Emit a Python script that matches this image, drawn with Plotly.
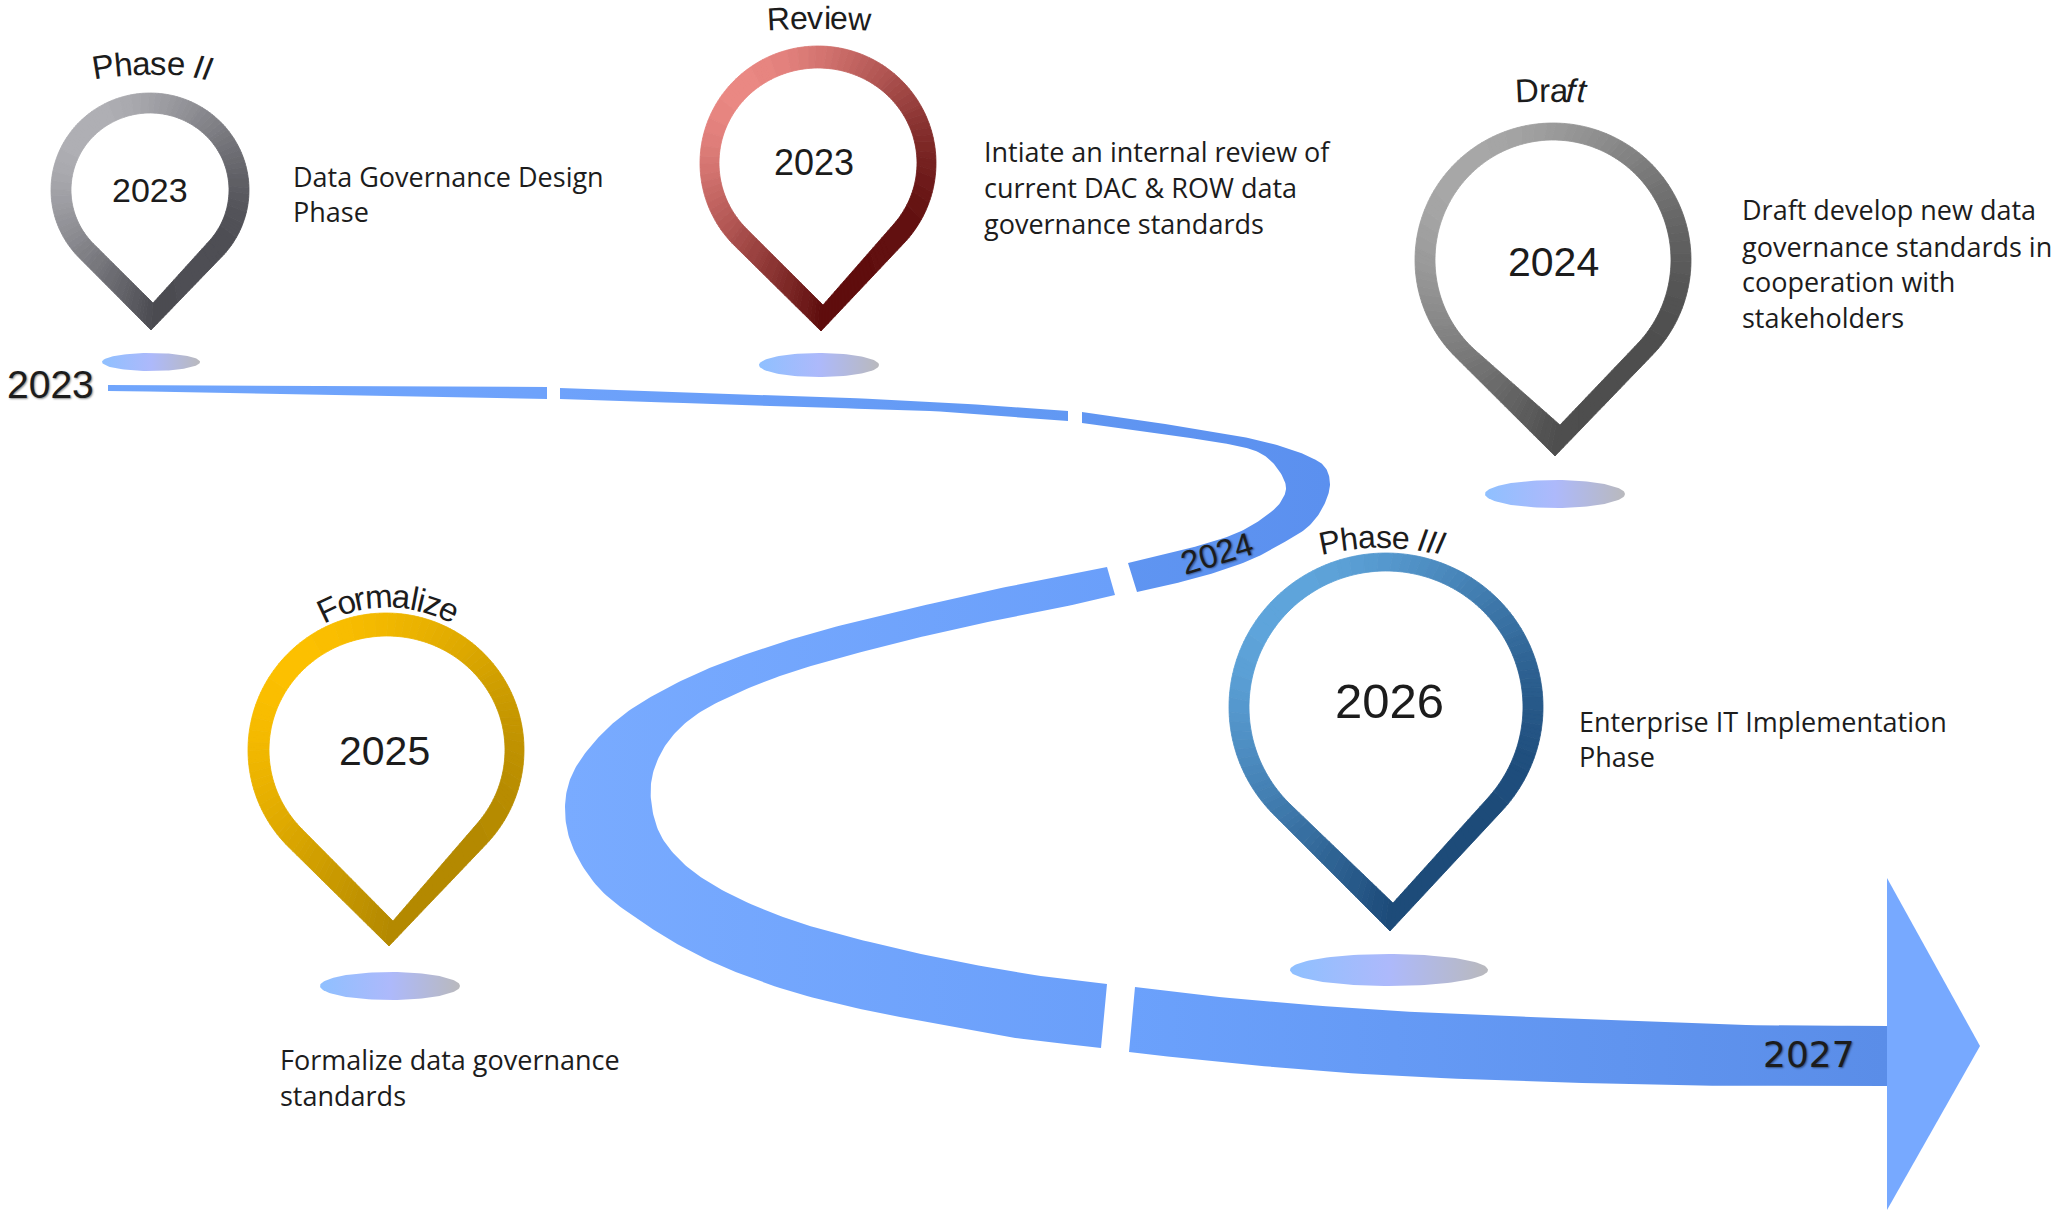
import math
import plotly.graph_objects as go

# Milestones along the roadmap
stage_names = ["Phase II", "Review", "Draft", "Phase III", "Formalize"]
stage_years = ["2023", "2023", "2024", "2026", "2025"]
stage_notes = [
    ["Data Governance Design", "Phase"],
    ["Intiate an internal review of", "current DAC & ROW data", "governance standards"],
    ["Draft develop new data", "governance standards in", "cooperation with", "stakeholders"],
    ["Enterprise IT Implementation", "Phase"],
    ["Formalize data governance", "standards"],
]
road_labels = ["2023", "2024", "2027"]

W, H = 2057, 1210
INK = "#1c1c1c"
BODY_FONT = "Open Sans"
YEAR_FONT = "Liberation Sans"

# Pin outlines: centre x, centre y, radius x, radius y, tip x, tip y
pin_outer = [
    (150, 190, 99, 97, 151, 330),
    (818, 163, 118, 117, 821, 331),
    (1553, 260, 138, 137, 1555, 456),
    (1386, 707, 157, 154, 1390, 931),
    (386, 750, 138, 137, 389, 946),
]
pin_inner = [
    (150, 190, 79, 77, 153, 303),
    (818, 163, 99, 95, 823, 305),
    (1553, 260, 118, 120, 1560, 425),
    (1386, 707, 137, 136, 1393, 903),
    (387, 750, 118, 114, 393, 921),
]
pin_colors = [
    ("#b6b6bb", "#47474d"),
    ("#f08d88", "#590808"),
    ("#ababab", "#4a4a4a"),
    ("#61a8df", "#1a4775"),
    ("#ffc200", "#b18700"),
]
# Floor shadows: centre x, centre y, radius x, radius y
shadows = [
    (151, 362, 49, 9),
    (819, 365, 60, 12),
    (1555, 494, 70, 14),
    (1389, 970, 99, 16),
    (390, 986, 70, 14),
]
# Year inside each pin: x, y, font size
year_marks = [
    (150, 190, 34),
    (814, 162, 36),
    (1553, 262, 41),
    (1389, 701, 49),
    (384, 751, 41),
]
# Note blocks: left x and the y of each line
note_left = [292, 983, 1741, 1578, 279]
note_rows = [
    [176, 211],
    [151, 187, 223],
    [209, 246, 281, 317],
    [721, 756],
    [1059, 1095],
]
# Curved stage titles: arc centre x, centre y, radius, font size; italic tail length
title_arcs = [
    (152, 373, 310, 33, 2),
    (819, 818, 800, 32, 0),
    (1551, 590, 500, 33, 2),
    (1382, 807, 270, 32, 3),
    (388, 738, 142, 33, 0),
]

# Road pieces as upper and lower edges, separated by the white cuts
road_pieces = [
    dict(upper=[(108, 385), (300, 386), (547, 387)],
         lower=[(108, 391), (300, 394), (547, 399)],
         colors=("#70a5fc", "#6ea2fb")),
    dict(upper=[(560, 388), (800, 396), (950, 403), (1068, 411)],
         lower=[(560, 399), (800, 407), (950, 412), (1068, 421)],
         colors=("#6ea2fb", "#6198f3")),
    dict(upper=[(1082, 412), (1133, 419), (1183, 427), (1233, 435), (1277, 445), (1310, 457), (1325, 467),
                (1330, 483), (1325, 503), (1310, 525), (1283, 543), (1250, 560), (1200, 577), (1137, 592)],
         lower=[(1082, 423), (1133, 430), (1183, 437), (1233, 445), (1258, 452), (1274, 464), (1286, 487),
                (1280, 503), (1263, 518), (1237, 533), (1183, 550), (1128, 563)],
         colors=("#6096f2", "#5b90ef")),
    dict(upper=[(1107, 567), (1050, 578), (983, 592), (917, 607), (850, 623), (783, 642), (717, 665),
                (667, 688), (623, 715), (590, 747), (571, 777), (565, 807), (571, 843), (598, 887),
                (645, 924), (704, 958), (780, 988), (856, 1008), (933, 1023), (1009, 1037), (1101, 1048)],
         lower=[(1115, 595), (1050, 610), (983, 623), (917, 638), (850, 655), (783, 675), (733, 695),
                (693, 717), (667, 743), (653, 773), (651, 800), (660, 834), (683, 863), (722, 890),
                (783, 917), (850, 937), (950, 960), (1047, 977), (1107, 984)],
         colors=("#79abff", "#6a9ffa")),
    dict(upper=[(1135, 987), (1200, 995), (1364, 1009), (1582, 1019), (1746, 1025), (1887, 1026)],
         lower=[(1129, 1052), (1200, 1060), (1364, 1074), (1582, 1083), (1746, 1086), (1887, 1086)],
         colors=("#6ba1fc", "#5a8de8")),
]
arrow_head = [(1887, 878), (1980, 1046), (1887, 1210)]
# Year labels on the road: x, y, rotation, size, family
road_marks = [
    (50, 384, 0, 39, YEAR_FONT),
    (1216, 553, -17, 33, YEAR_FONT),
    (1809, 1054, 0, 36, "DejaVu Sans"),
]

# Horizontal advance of each glyph, in thousandths of an em
ADVANCE = {"P": 667, "h": 556, "a": 556, "s": 500, "e": 556, " ": 278, "I": 278, "R": 722, "v": 500,
           "i": 222, "w": 722, "D": 722, "r": 333, "f": 278, "t": 278, "F": 611, "o": 556, "m": 833,
           "l": 222, "z": 500}


def hex_rgb(code):
    return tuple(int(code[i:i + 2], 16) for i in (1, 3, 5))


def blend(c0, c1, t):
    a, b = hex_rgb(c0), hex_rgb(c1)
    return "rgb(%d,%d,%d)" % tuple(round(a[i] + (b[i] - a[i]) * t) for i in range(3))


def lerp(p, q, t0, t1, t):
    w = (t - t0) / (t1 - t0)
    return (p[0] + (q[0] - p[0]) * w, p[1] + (q[1] - p[1]) * w)


def smooth(points, steps=14):
    """Centripetal Catmull-Rom curve through the given edge points."""
    first = (2 * points[0][0] - points[1][0], 2 * points[0][1] - points[1][1])
    last = (2 * points[-1][0] - points[-2][0], 2 * points[-1][1] - points[-2][1])
    ctrl = [first] + list(points) + [last]
    out = []
    for i in range(len(ctrl) - 3):
        p0, p1, p2, p3 = ctrl[i:i + 4]
        t0 = 0.0
        t1 = t0 + math.dist(p0, p1) ** 0.5
        t2 = t1 + math.dist(p1, p2) ** 0.5
        t3 = t2 + math.dist(p2, p3) ** 0.5
        for k in range(steps):
            t = t1 + (t2 - t1) * k / steps
            a1 = lerp(p0, p1, t0, t1, t)
            a2 = lerp(p1, p2, t1, t2, t)
            a3 = lerp(p2, p3, t2, t3, t)
            b1 = lerp(a1, a2, t0, t2, t)
            b2 = lerp(a2, a3, t1, t3, t)
            out.append(lerp(b1, b2, t1, t2, t))
    out.append(points[-1])
    return out


def pin_contour(spec, arc_steps=150, side_steps=24):
    """Teardrop: an elliptical arc closed by two tangents meeting at the tip."""
    cx, cy, rx, ry, tx, ty = spec
    px, py = (tx - cx) / rx, (ty - cy) / ry
    dist = math.hypot(px, py)
    phi = math.atan2(py, px)
    spread = math.acos(1 / dist)
    a0 = phi + spread
    sweep = 2 * math.pi - 2 * spread
    pts = []
    for i in range(arc_steps + 1):
        a = a0 + sweep * i / arc_steps
        pts.append((cx + rx * math.cos(a), cy + ry * math.sin(a)))
    start, end = pts[0], pts[-1]
    for i in range(1, side_steps + 1):
        t = i / side_steps
        pts.append((end[0] + (tx - end[0]) * t, end[1] + (ty - end[1]) * t))
    for i in range(1, side_steps + 1):
        t = i / side_steps
        pts.append((tx + (start[0] - tx) * t, ty + (start[1] - ty) * t))
    return pts


def add_ring(fig, outer, inner, colors, levels=40):
    """Ring with a diagonal light-to-dark sweep, grouped into colour bands."""
    proj = [x + y for x, y in outer]
    low, high = min(proj), max(proj)
    bands = [([], []) for _ in range(levels)]
    for i in range(len(outer) - 1):
        quad = [outer[i], outer[i + 1], inner[i + 1], inner[i]]
        mid = sum(x + y for x, y in quad) / 4
        t = (mid - low) / (high - low)
        level = min(levels - 1, max(0, int(t * levels)))
        xs, ys = bands[level]
        xs.extend([p[0] for p in quad] + [quad[0][0], None])
        ys.extend([p[1] for p in quad] + [quad[0][1], None])
    for level, (xs, ys) in enumerate(bands):
        if not xs:
            continue
        shade = blend(colors[0], colors[1], (level + 0.5) / levels)
        fig.add_trace(go.Scatter(x=xs, y=ys, mode="lines", fill="toself", fillcolor=shade,
                                 line=dict(color=shade, width=0.8), hoverinfo="skip", showlegend=False))


def add_text(fig, text, x, y, size, family, angle=0, anchor="center", shadow=None):
    font = dict(size=size, family=family, color=INK)
    if shadow:
        font["shadow"] = shadow
    fig.add_annotation(x=x, y=y, text=text, showarrow=False, textangle=angle, xanchor=anchor,
                       yanchor="middle", font=font, borderpad=0)


def add_arc_title(fig, title, arc):
    cx, cy, radius, size, italic_tail = arc
    widths = [ADVANCE[c] * size / 1000 for c in title]
    total = sum(widths)
    run = -total / 2
    for i, (ch, w) in enumerate(zip(title, widths)):
        mid = run + w / 2
        run += w
        if ch == " ":
            continue
        a = mid / radius
        gx = cx + radius * math.sin(a)
        gy = cy - radius * math.cos(a)
        label = f"<i>{ch}</i>" if i >= len(title) - italic_tail else ch
        add_text(fig, label, gx, gy, size, YEAR_FONT, angle=math.degrees(a))


fig = go.Figure()

# Road
for piece in road_pieces:
    outline = smooth(piece["upper"]) + smooth(piece["lower"])[::-1]
    xs = [p[0] for p in outline] + [outline[0][0]]
    ys = [p[1] for p in outline] + [outline[0][1]]
    fig.add_trace(go.Scatter(
        x=xs, y=ys, mode="lines", fill="toself", line=dict(width=0), hoverinfo="skip", showlegend=False,
        fillgradient=dict(type="horizontal", colorscale=[[0, piece["colors"][0]], [1, piece["colors"][1]]]),
    ))

fig.add_trace(go.Scatter(
    x=[p[0] for p in arrow_head] + [arrow_head[0][0]],
    y=[p[1] for p in arrow_head] + [arrow_head[0][1]],
    mode="lines", fill="toself", line=dict(width=0), hoverinfo="skip", showlegend=False,
    fillcolor="#77a9ff",
))

# Floor shadows beneath the pins
for cx, cy, rx, ry in shadows:
    angles = [2 * math.pi * i / 120 for i in range(121)]
    fig.add_trace(go.Scatter(
        x=[cx + rx * math.cos(a) for a in angles],
        y=[cy + ry * math.sin(a) for a in angles],
        mode="lines", fill="toself", line=dict(width=0), hoverinfo="skip", showlegend=False,
        fillgradient=dict(type="horizontal",
                          colorscale=[[0, "#8fc0ff"], [0.5, "#adb9fb"], [1, "#b9b9bd"]]),
    ))

# Pins
for outer, inner, colors in zip(pin_outer, pin_inner, pin_colors):
    add_ring(fig, pin_contour(outer), pin_contour(inner), colors)

# Pin years, titles and notes
for year, (x, y, size) in zip(stage_years, year_marks):
    add_text(fig, year, x, y, size, YEAR_FONT)
for name, arc in zip(stage_names, title_arcs):
    add_arc_title(fig, name, arc)
for lines, left, rows in zip(stage_notes, note_left, note_rows):
    for line, y in zip(lines, rows):
        add_text(fig, line, left, y, 27, BODY_FONT, anchor="left")

# Years riding on the road
for label, (x, y, angle, size, family) in zip(road_labels, road_marks):
    add_text(fig, label, x, y, size, family, angle=angle, shadow="1px 1px 2px rgba(0,0,0,0.45)")

fig.update_layout(
    width=W, height=H, autosize=False,
    margin=dict(l=0, r=0, t=0, b=0),
    paper_bgcolor="white", plot_bgcolor="white",
    showlegend=False,
    xaxis=dict(range=[0, W], visible=False, fixedrange=True),
    yaxis=dict(range=[H, 0], visible=False, fixedrange=True),
)

fig.write_html("out.html", config=dict(displayModeBar=False))
